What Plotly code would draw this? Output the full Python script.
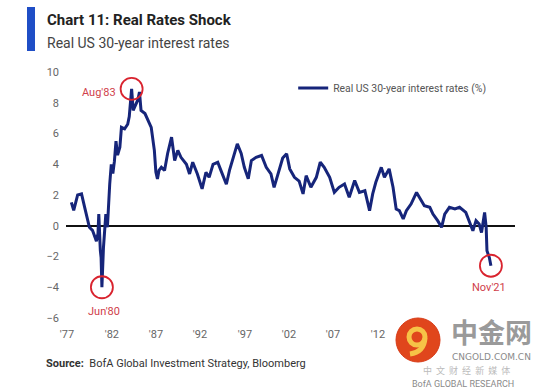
import plotly.graph_objects as go

# ---- data ----
dates = [
    "1977-03", "1977-06", "1977-11", "1978-04", "1978-08", "1978-11", "1979-02", "1979-06",
    "1979-11", "1980-01", "1980-02", "1980-04", "1980-05", "1980-06", "1980-08", "1980-11",
    "1981-01", "1981-04", "1981-06", "1981-08", "1981-10", "1981-12", "1982-02", "1982-05",
    "1982-07", "1982-11", "1983-03", "1983-05", "1983-08", "1983-10", "1984-02", "1984-04",
    "1984-06", "1984-08", "1985-01", "1985-05", "1985-09", "1986-01", "1986-03", "1986-05",
    "1986-07", "1986-10", "1987-02", "1987-06", "1987-11", "1988-03", "1988-07", "1988-11",
    "1989-06", "1989-10", "1990-02", "1990-08", "1991-02", "1991-07", "1991-11", "1992-04",
    "1992-10", "1993-02", "1993-09", "1994-01", "1994-07", "1994-11", "1995-04", "1995-08",
    "1996-01", "1996-05", "1996-11", "1997-06", "1997-12", "1998-06", "1998-10", "1999-03",
    "1999-09", "2000-02", "2000-06", "2000-12", "2001-06", "2001-11", "2002-03", "2002-09",
    "2003-04", "2003-09", "2004-02", "2004-09", "2005-03", "2005-09", "2006-04", "2006-10",
    "2007-05", "2007-11", "2008-06", "2008-12", "2009-04", "2009-08", "2010-03", "2010-07",
    "2011-01", "2011-06", "2011-10", "2012-02", "2012-07", "2012-11", "2013-05", "2013-12",
    "2014-04", "2014-10", "2015-05", "2015-09", "2016-03", "2016-08", "2016-12", "2017-06",
    "2018-01", "2018-07", "2019-03", "2019-09", "2019-12", "2020-04", "2020-08", "2020-11",
    "2021-01", "2021-03", "2021-05", "2021-06", "2021-09", "2021-10", "2021-11",
]
real_rates = [
    1.52, 1.0, 2.0, 2.07, 1.2, 0.5, -0.1, -0.3,
    -1.0, -0.5, 0.76, -1.6, -2.07, -4.0, -1.4, 0.76,
    -0.1, 2.7, 4.0, 3.4, 4.2, 5.5, 4.6, 5.1,
    6.4, 6.3, 6.6, 7.1, 8.9, 7.5, 7.9, 8.2,
    8.7, 7.5, 7.3, 6.85, 6.4, 4.9, 3.5, 3.05,
    3.6, 3.8, 3.6, 4.7, 5.76, 4.24, 4.9, 4.45,
    4.0, 3.37, 4.13, 3.37, 2.4, 3.48, 3.15, 4.0,
    4.13, 3.6, 2.7, 3.6, 4.7, 5.33, 4.7, 3.8,
    3.05, 4.24, 4.45, 4.57, 3.8, 3.37, 2.5, 3.37,
    4.4, 4.68, 3.7, 3.15, 2.9, 2.07, 3.26, 2.5,
    3.15, 4.13, 3.8, 3.15, 2.17, 2.5, 2.72, 1.85,
    2.94, 2.17, 2.28, 0.98, 2.07, 2.83, 3.8, 3.15,
    3.7, 2.5, 1.09, 0.98, 0.44, 0.98, 1.41, 2.17,
    1.85, 1.3, 1.2, 0.76, 0.33, -0.1, 0.76, 1.2,
    1.09, 1.2, 0.87, 0.0, -0.33, 0.33, 0.11, -0.44,
    0.33, 0.87, -0.1, -1.63, -2.07, -2.5, -2.6,
]
series_name = "Real US 30-year interest rates (%)"

x_tick_positions = ["1976-09-10", "1981-06-25", "1986-03-03", "1990-11-10", "1995-08-25",
                    "2000-05-01", "2005-01-08", "2009-10-23", "2014-07-01"]
x_tick_labels = ["'77", "'82", "'87", "'92", "'97", "'02", "'07", "'12", "'17"]
y_tick_values = [-6, -4, -2, 0, 2, 4, 6, 8, 10]

# highlighted points: (label, date, value)
highlights = [("Jun'80", "1980-06", -4.0), ("Aug'83", "1983-08", 8.9), ("Nov'21", "2021-11", -2.6)]

FONT = "Roboto"
NAVY = "#16257a"
RED = "#d9232e"

fig = go.Figure()
fig.add_trace(go.Scatter(x=dates, y=real_rates, mode="lines", name=series_name,
                         line=dict(color=NAVY, width=3)))

fig.update_layout(
    width=552, height=390,
    margin=dict(l=66, r=37, t=72, b=72),
    paper_bgcolor="white", plot_bgcolor="white",
    font=dict(family=FONT, color="#555555", size=11),
    showlegend=True,
    legend=dict(x=0.506, y=0.935, xanchor="left", yanchor="middle",
                bgcolor="rgba(0,0,0,0)", font=dict(size=10.4, color="#555555"),
                itemwidth=30),
    xaxis=dict(type="date", range=["1976-08-05", "2024-05-26"],
               tickmode="array", tickvals=x_tick_positions, ticktext=x_tick_labels,
               showgrid=False, zeroline=False, showline=False, ticks="",
               ticklabelstandoff=8, tickfont=dict(size=11, color="#666666")),
    yaxis=dict(range=[-6, 10], tickmode="array", tickvals=y_tick_values,
               showgrid=False, zeroline=True, zerolinecolor="#111111", zerolinewidth=1.6,
               showline=False, ticks="", ticklabelstandoff=6,
               tickfont=dict(size=11, color="#666666")),
)

def px_x(px):
    return (px - 66) / 449.0

def px_y(py):
    return (318 - py) / 246.0

shapes = []
annotations = []

# title bar
shapes.append(dict(type="rect", xref="paper", yref="paper", x0=px_x(27), x1=px_x(35),
                   y0=px_y(51), y1=px_y(7), fillcolor="#1f4ec6", line=dict(width=0)))
annotations.append(dict(xref="paper", yref="paper", x=px_x(45), y=px_y(20), xanchor="left",
                        yanchor="middle", showarrow=False,
                        text="<b>Chart 11: Real Rates Shock</b>",
                        font=dict(family=FONT, size=15, color="#222222")))
annotations.append(dict(xref="paper", yref="paper", x=px_x(45), y=px_y(43), xanchor="left",
                        yanchor="middle", showarrow=False,
                        text="Real US 30-year interest rates",
                        font=dict(family=FONT, size=14, color="#444444")))

# highlight circles and labels
label_offsets = {"Jun'80": dict(xanchor="center", xshift=2, yshift=-24),
                 "Aug'83": dict(xanchor="right", xshift=-14, yshift=-4),
                 "Nov'21": dict(xanchor="center", xshift=-2, yshift=-22)}
for lab, d, v in highlights:
    shapes.append(dict(type="circle", xref="x", yref="y", xsizemode="pixel", ysizemode="pixel",
                       xanchor=d, yanchor=v, x0=-11, x1=11, y0=-11, y1=11,
                       line=dict(color=RED, width=1.8), fillcolor="rgba(0,0,0,0)"))
    o = label_offsets[lab]
    annotations.append(dict(xref="x", yref="y", x=d, y=v, text=lab, showarrow=False,
                            xanchor=o["xanchor"], yanchor="middle",
                            xshift=o["xshift"], yshift=o["yshift"],
                            font=dict(family=FONT, size=11, color="#d0404a")))

# source
annotations.append(dict(xref="paper", yref="paper", x=px_x(44), y=px_y(363), xanchor="left",
                        yanchor="middle", showarrow=False,
                        text="<b>Source:</b>  BofA Global Investment Strategy, Bloomberg",
                        font=dict(family=FONT, size=11, color="#333333")))

# watermark logo (orange disc with a yellow swirl)
shapes.append(dict(type="circle", xref="paper", yref="paper", layer="above",
                   x0=px_x(396), x1=px_x(440), y0=px_y(362), y1=px_y(318),
                   fillcolor="#e0461c", line=dict(color="#d83a16", width=1)))
shapes.append(dict(type="circle", xref="paper", yref="paper", layer="above",
                   x0=px_x(409), x1=px_x(425), y0=px_y(345), y1=px_y(329),
                   fillcolor="rgba(0,0,0,0)", line=dict(color="#f6c347", width=5)))
shapes.append(dict(type="path", xref="paper", yref="paper", layer="above",
                   path="M %f %f Q %f %f %f %f" % (px_x(425), px_y(338), px_x(424), px_y(352),
                                                   px_x(410), px_y(354)),
                   line=dict(color="#f6c347", width=5)))
wm = [
    ("<b>中金网</b>", 491, 331, "Noto Sans CJK SC", 27, "#9a9a9a"),
    ("CNGOLD.COM.CN", 491, 357, "DejaVu Sans", 9, "#8a8a8a"),
    ("中  文  财  经  新  媒  体", 466, 370, "Noto Sans CJK SC", 9, "#bbbbbb"),
    ("BofA GLOBAL RESEARCH", 463, 384, FONT, 9, "#8a8a8a"),
]
for txt, cx, cy, fam, sz, col in wm:
    annotations.append(dict(xref="paper", yref="paper", x=px_x(cx), y=px_y(cy),
                            xanchor="center", yanchor="middle", showarrow=False,
                            text=txt, font=dict(family=fam, size=sz, color=col)))

fig.update_layout(shapes=shapes, annotations=annotations)
fig.write_html("out.html", post_script="document.body.style.margin='0';",
               config={"displayModeBar": False})
